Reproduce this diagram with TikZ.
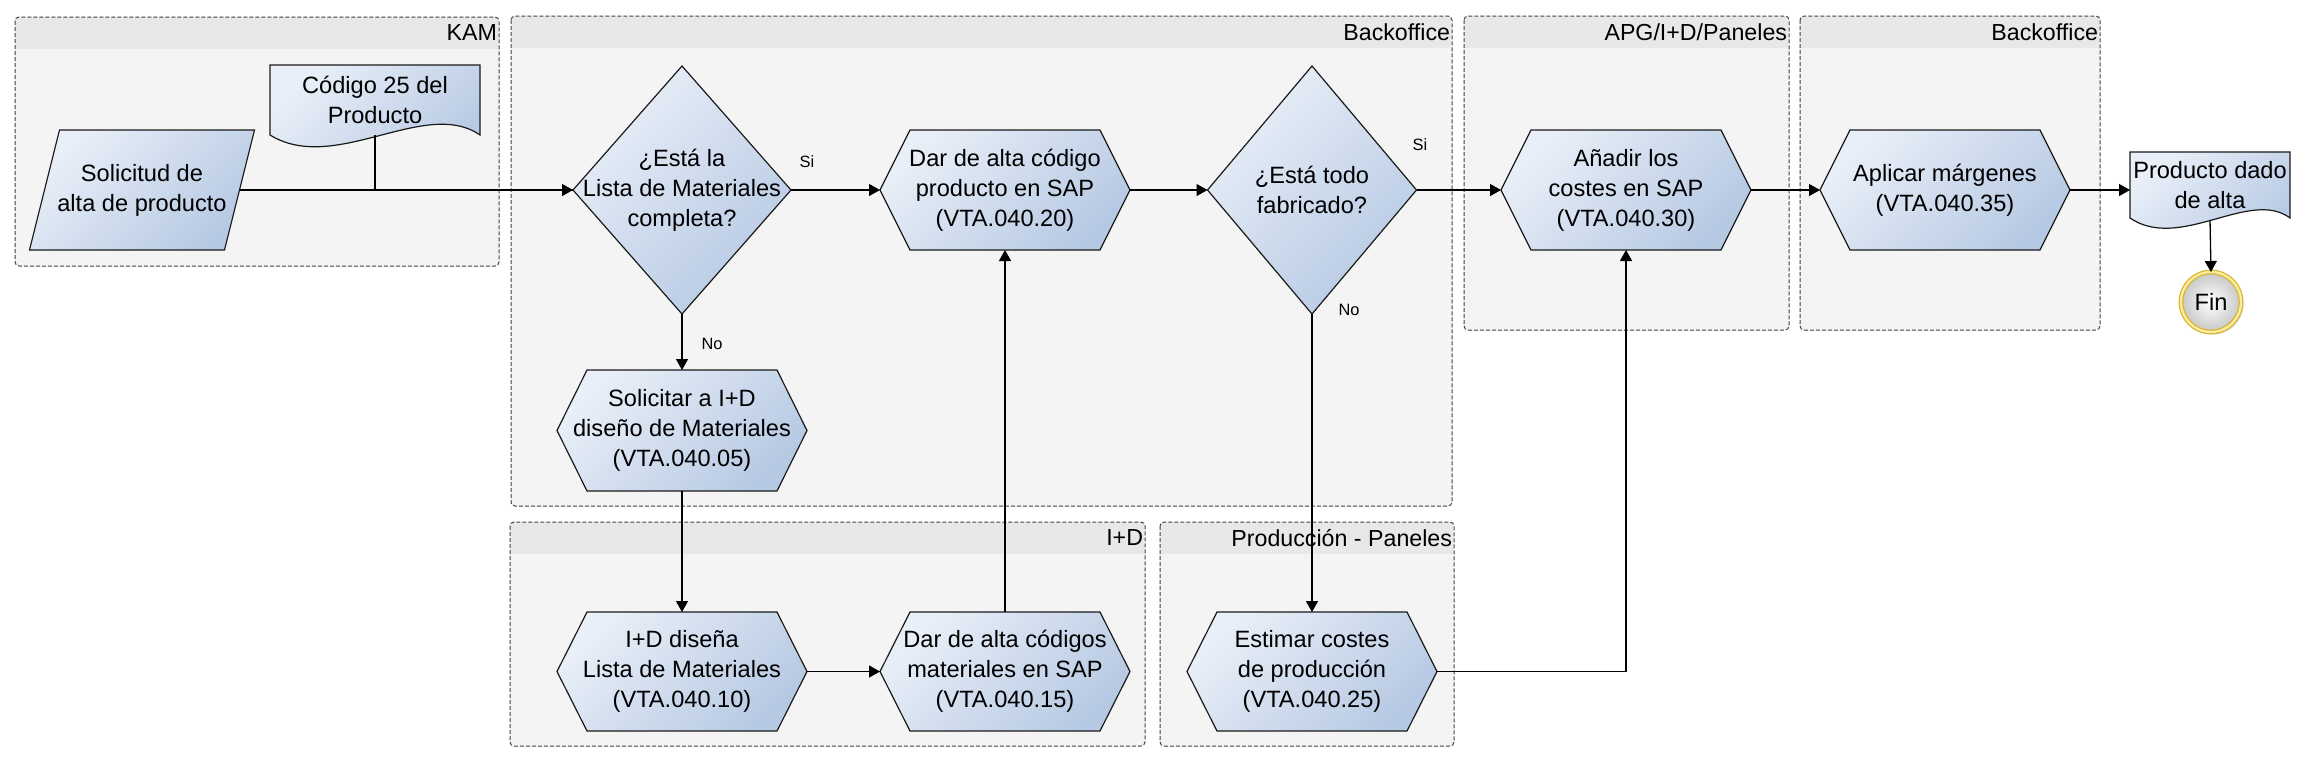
\documentclass[tikz,border=0pt]{standalone}
\usepackage{fontspec}
\setmainfont{Liberation Sans}
\usetikzlibrary{arrows.meta,calc,shadows}
\pgfdeclarelayer{bg}
\pgfdeclarelayer{lanes}
\pgfdeclarelayer{shapes}
\pgfsetlayers{bg,lanes,shapes,main}
\definecolor{lanefill}{HTML}{F4F4F4}
\definecolor{lanehead}{HTML}{E8E8E8}
\definecolor{shapeA}{HTML}{E9EFF8}
\definecolor{shapeB}{HTML}{B6C9E3}
\definecolor{edgecol}{HTML}{1A1A1A}
\definecolor{finring}{HTML}{D8B428}
\definecolor{finringin}{HTML}{FAEBA0}
\newcommand\swimlane[6]{%
  \fill[lanefill, rounded corners=2pt] (#1,#2) rectangle (#3,#4);
  \fill[lanehead] (#1+1,#2+1) rectangle (#3-1,#2+32);
  \draw[laneline, rounded corners=2pt] (#1,#2) rectangle (#3,#4);
  \node[lanelabel] (#6) at (#3-2,#2+16) {#5};}
\newcommand\hexpath[1]{%
  \path[shapefill] (#1.west) -- ($(#1.north west)+(30,0)$) -- ($(#1.north east)+(-30,0)$)
    -- (#1.east) -- ($(#1.south east)+(-30,0)$) -- ($(#1.south west)+(30,0)$) -- cycle;}
\newcommand\diampath[1]{%
  \path[shapefill] (#1.north) -- (#1.east) -- (#1.south) -- (#1.west) -- cycle;}
\begin{document}
\begin{tikzpicture}[x=0.5pt,y=-0.5pt,
  every node/.style={inner sep=0pt, outer sep=0pt},
  txt/.style={font=\fontsize{11.8}{15}\selectfont, align=center},
  box/.style 2 args={txt, minimum width=#1*0.5pt, minimum height=#2*0.5pt},
  shapefill/.style={draw=edgecol, line width=0.6pt, top color=shapeA, bottom color=shapeB, shading angle=45},
  conn/.style={draw=black, line width=0.65pt, -{Triangle[length=5.5pt,width=6pt]}},
  plain/.style={draw=black, line width=0.65pt},
  laneline/.style={draw=black!75, line width=0.5pt, dash pattern=on 2pt off 1pt},
  lanelabel/.style={font=\fontsize{11.6}{13}\selectfont, anchor=east},
  branch/.style={font=\fontsize{8.2}{10}\selectfont},
  finnode/.style={circle, minimum size=30pt, draw=finring, double=finringin, double distance=1.2pt,
    line width=0.6pt, inner color=white, outer color=black!22, txt,
    drop shadow={opacity=0.3, shadow xshift=1.2pt, shadow yshift=-1.2pt}}
]
\useasboundingbox (0,0) rectangle (2303,762);
\begin{pgfonlayer}{bg}
  \fill[white] (0,0) rectangle (2303,762);
\end{pgfonlayer}

% lanes
\begin{pgfonlayer}{lanes}
  \swimlane{15}{17}{499}{266}{KAM}{lkam}
  \swimlane{511}{16}{1452}{506}{Backoffice}{lbo1}
  \swimlane{1464}{16}{1789}{330}{APG/I+D/Paneles}{lapg}
  \swimlane{1800}{16}{2100}{330}{Backoffice}{lbo2}
  \swimlane{510}{522}{1145}{746}{I+D}{lid}
  \swimlane{1160}{522}{1454}{746}{Producción - Paneles}{lprod}
\end{pgfonlayer}

% nodes (text)
\node[box={195}{120}] (sol) at (142,190) {Solicitud de\\alta de producto};
\node[box={210}{70}] (cod) at (375,100) {Código 25 del\\Producto};
\node[box={218}{248}] (d1) at (682,190) {¿Está la\\Lista de Materiales\\completa?};
\node[box={250}{120}] (h20) at (1005,190) {Dar de alta código\\producto en SAP\\(VTA.040.20)};
\node[box={209}{248}] (d2) at (1312,190) {¿Está todo\\fabricado?};
\node[box={250}{120}] (h30) at (1626,190) {Añadir los\\costes en SAP\\(VTA.040.30)};
\node[box={250}{120}] (h35) at (1945,190) {Aplicar márgenes\\(VTA.040.35)};
\node[box={160}{66}] (prod) at (2210,185) {Producto dado\\de alta};
\node[finnode] (fin) at (2211,302) {Fin};
\node[box={250}{121}] (h05) at (682,430.5) {Solicitar a I+D\\diseño de Materiales\\(VTA.040.05)};
\node[box={250}{119}] (h10) at (682,671.5) {I+D diseña\\Lista de Materiales\\(VTA.040.10)};
\node[box={250}{119}] (h15) at (1005,671.5) {Dar de alta códigos\\materiales en SAP\\(VTA.040.15)};
\node[box={250}{119}] (h25) at (1312,671.5) {Estimar costes\\de producción\\(VTA.040.25)};

% shapes
\begin{pgfonlayer}{shapes}
  \path[shapefill] ($(sol.south west)+(-15,0)$) -- ($(sol.north west)+(15,0)$)
     -- ($(sol.north east)+(15,0)$) -- ($(sol.south east)+(-15,0)$) -- cycle;
  \path[shapefill] (cod.north west) -- (cod.north east) -- (cod.south east)
     .. controls ($(cod.south east)+(-55,-38)$) and ($(cod.south west)+(65,40)$) .. (cod.south west) -- cycle;
  \path[shapefill] (prod.north west) -- (prod.north east) -- (prod.south east)
     .. controls ($(prod.south east)+(-40,-30)$) and ($(prod.south west)+(50,34)$) .. (prod.south west) -- cycle;
  \diampath{d1}
  \diampath{d2}
  \hexpath{h20}
  \hexpath{h30}
  \hexpath{h35}
  \hexpath{h05}
  \hexpath{h10}
  \hexpath{h15}
  \hexpath{h25}
\end{pgfonlayer}

% connectors
\draw[plain] (cod.south) |- (d1.west);
\draw[conn] (sol.east) -- (d1.west);
\draw[conn] (d1.east) -- (h20.west);
\draw[conn] (d1.south) -- (h05.north);
\draw[conn] (h05.south) -- (h10.north);
\draw[conn] (h10.east) -- (h15.west);
\draw[conn] (h15.north) -- (h20.south);
\draw[conn] (h20.east) -- (d2.west);
\draw[conn] (d2.east) -- (h30.west);
\draw[conn] (d2.south) -- (h25.north);
\draw[conn] (h25.east) -| (h30.south);
\draw[conn] (h30.east) -- (h35.west);
\draw[conn] (h35.east) -- (h35.east -| prod.west);
\draw[conn] ($(prod.south)+(0,2)$) -- (fin.north);

% branch labels
\node[branch] (si1) at (807,162) {Si};
\node[branch] (no1) at (712,344) {No};
\node[branch] (si2) at (1420,145) {Si};
\node[branch] (no2) at (1349,310) {No};
\end{tikzpicture}
\end{document}
